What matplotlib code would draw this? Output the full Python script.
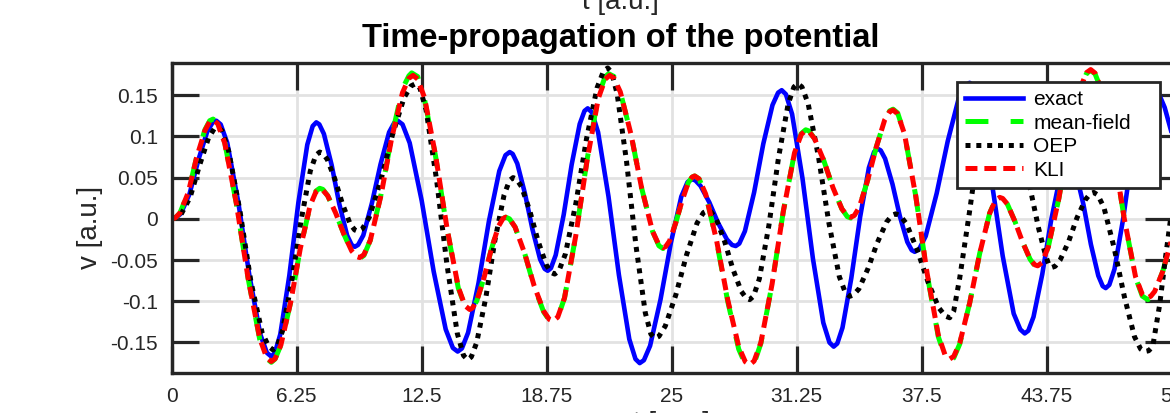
import matplotlib
matplotlib.use('Agg')
import matplotlib.pyplot as plt

# values (t in a.u., v in a.u.)
t_exact = [0,
           0.18, 0.45, 0.89, 1.34, 1.78, 2.05, 2.23,
           2.45, 2.78, 3.33, 3.88, 4.43, 4.76, 4.98,
           5.16, 5.43, 5.88, 6.33, 6.78, 7.05, 7.23,
           7.38, 7.61, 8.00, 8.38, 8.77, 9.00, 9.15,
           9.32, 9.58, 10.01, 10.44, 10.87, 11.13, 11.3,
           11.54, 11.9, 12.5, 13.1, 13.7, 14.06, 14.3,
           14.51, 14.82, 15.34, 15.86, 16.38, 16.69, 16.9,
           17.05, 17.28, 17.66, 18.04, 18.42, 18.65, 18.8,
           18.96, 19.2, 19.6, 20.0, 20.4, 20.64, 20.8,
           21.01, 21.32, 21.84, 22.36, 22.88, 23.19, 23.4,
           23.61, 23.92, 24.44, 24.96, 25.48, 25.79, 26.0,
           26.18, 26.44, 26.88, 27.32, 27.76, 28.02, 28.2,
           28.38, 28.66, 29.12, 29.58, 30.04, 30.32, 30.5,
           30.71, 31.02, 31.54, 32.06, 32.58, 32.89, 33.1,
           33.28, 33.54, 33.98, 34.42, 34.86, 35.12, 35.3,
           35.45, 35.67, 36.04, 36.41, 36.78, 37.0, 37.15,
           37.37, 37.70, 38.25, 38.80, 39.35, 39.68, 39.9,
           40.12, 40.45, 41.0, 41.55, 42.1, 42.43, 42.65,
           42.83, 43.09, 43.53, 43.97, 44.41, 44.67, 44.85,
           45.0, 45.22, 45.59, 45.96, 46.33, 46.55, 46.7,
           46.88, 47.14, 47.58, 48.02, 48.46, 48.72, 48.9,
           49.1, 49.3, 49.65, 50.0]
v_exact = [0,
           0.001, 0.006, 0.030, 0.072, 0.106, 0.117, 0.119,
           0.1145, 0.092, 0.020, -0.068, -0.140, -0.1625, -0.167,
           -0.1625, -0.140, -0.069, 0.019, 0.090, 0.1125, 0.117,
           0.1146, 0.103, 0.065, 0.018, -0.020, -0.0316, -0.034,
           -0.0316, -0.020, 0.019, 0.066, 0.105, 0.1166, 0.119,
           0.1146, 0.092, 0.022, -0.064, -0.134, -0.1566, -0.161,
           -0.1572, -0.138, -0.078, -0.003, 0.058, 0.0772, 0.081,
           0.0787, 0.067, 0.031, -0.013, -0.049, -0.0607, -0.063,
           -0.0599, -0.044, 0.005, 0.066, 0.115, 0.1309, 0.134,
           0.1291, 0.105, 0.027, -0.068, -0.146, -0.1701, -0.175,
           -0.1715, -0.154, -0.098, -0.029, 0.027, 0.0445, 0.048,
           0.0467, 0.040, 0.020, -0.005, -0.025, -0.0317, -0.033,
           -0.030, -0.015, 0.032, 0.091, 0.138, 0.153, 0.156,
           0.1511, 0.127, 0.049, -0.048, -0.126, -0.1501, -0.155,
           -0.1512, -0.132, -0.072, 0.002, 0.062, 0.0812, 0.085,
           0.083, 0.073, 0.042, 0.003, -0.028, -0.038, -0.040,
           -0.0368, -0.021, 0.031, 0.094, 0.146, 0.1618, 0.165,
           0.1602, 0.130, 0.045, -0.045, -0.115, -0.1342, -0.139,
           -0.1357, -0.119, -0.067, -0.002, 0.050, 0.0667, 0.070,
           0.0676, 0.055, 0.017, -0.031, -0.069, -0.0816, -0.084,
           -0.0801, -0.061, 0.001, 0.078, 0.140, 0.1591, 0.163,
           0.161, 0.155, 0.135, 0.104]

t_kli = [0,
         0.17, 0.41, 0.83, 1.24, 1.66, 1.90, 2.07,
         2.30, 2.65, 3.23, 3.82, 4.40, 4.75, 4.98,
         5.17, 5.46, 5.95, 6.43, 6.92, 7.21, 7.4,
         7.56, 7.8, 8.2, 8.6, 9.0, 9.24, 9.4,
         9.61, 9.93, 10.47, 11.00, 11.54, 11.86, 12.07,
         12.30, 12.64, 13.20, 13.77, 14.33, 14.67, 14.9,
         15.04, 15.26, 15.62, 15.98, 16.34, 16.56, 16.7,
         16.89, 17.17, 17.65, 18.12, 18.60, 18.88, 19.07,
         19.30, 19.64, 20.20, 20.77, 21.33, 21.67, 21.9,
         22.11, 22.43, 22.97, 23.50, 24.04, 24.36, 24.57,
         24.70, 24.89, 25.20, 25.52, 25.83, 26.02, 26.15,
         26.37, 26.70, 27.25, 27.80, 28.35, 28.68, 28.9,
         29.12, 29.46, 30.02, 30.58, 31.14, 31.48, 31.7,
         31.88, 32.15, 32.60, 33.06, 33.51, 33.78, 33.96,
         34.13, 34.38, 34.80, 35.23, 35.65, 35.90, 36.07,
         36.30, 36.64, 37.20, 37.77, 38.33, 38.67, 38.9,
         39.1, 39.4, 39.9, 40.4, 40.9, 41.2, 41.4,
         41.55, 41.78, 42.16, 42.54, 42.92, 43.15, 43.3,
         43.51, 43.83, 44.36, 44.89, 45.42, 45.74, 45.95,
         46.17, 46.51, 47.07, 47.63, 48.19, 48.53, 48.75,
         48.95, 49.15, 49.55, 50.0]
v_kli = [0,
         0.001, 0.007, 0.032, 0.074, 0.107, 0.118, 0.120,
         0.1154, 0.092, 0.019, -0.072, -0.145, -0.1684, -0.173,
         -0.1697, -0.153, -0.101, -0.036, 0.016, 0.0327, 0.036,
         0.0347, 0.028, 0.007, -0.018, -0.039, -0.0457, -0.047,
         -0.0435, -0.026, 0.029, 0.098, 0.153, 0.1705, 0.174,
         0.1695, 0.147, 0.076, -0.012, -0.083, -0.1055, -0.110,
         -0.1082, -0.099, -0.071, -0.037, -0.009, 0.0002, 0.002,
         0.000, -0.010, -0.042, -0.081, -0.112, -0.122, -0.124,
         -0.1193, -0.096, -0.021, 0.071, 0.146, 0.1693, 0.174,
         0.1707, 0.154, 0.102, 0.037, -0.015, -0.0317, -0.035,
         -0.0336, -0.027, -0.005, 0.022, 0.044, 0.0506, 0.052,
         0.0484, 0.030, -0.027, -0.098, -0.155, -0.1734, -0.177,
         -0.1725, -0.150, -0.079, 0.009, 0.080, 0.1025, 0.107,
         0.1054, 0.097, 0.071, 0.038, 0.012, 0.0036, 0.002,
         0.004, 0.014, 0.047, 0.087, 0.120, 0.130, 0.132,
         0.1273, 0.103, 0.028, -0.066, -0.141, -0.1653, -0.170,
         -0.1669, -0.151, -0.102, -0.042, 0.007, 0.0229, 0.026,
         0.0247, 0.018, -0.003, -0.028, -0.049, -0.0557, -0.057,
         -0.0533, -0.034, 0.025, 0.099, 0.158, 0.1773, 0.181,
         0.1767, 0.155, 0.085, 0.000, -0.070, -0.0917, -0.096,
         -0.094, -0.088, -0.064, -0.025]

# mean-field sits almost exactly under KLI
t_mf = [0,
        0.17, 0.41, 0.83, 1.24, 1.66, 1.90, 2.07,
        2.30, 2.65, 3.23, 3.82, 4.40, 4.75, 4.98,
        5.17, 5.46, 5.95, 6.43, 6.92, 7.21, 7.4,
        7.56, 7.8, 8.2, 8.6, 9.0, 9.24, 9.4,
        9.61, 9.93, 10.47, 11.00, 11.54, 11.86, 12.0,
        12.30, 12.64, 13.20, 13.77, 14.33, 14.67, 14.9,
        15.04, 15.26, 15.62, 15.98, 16.34, 16.56, 16.7,
        16.89, 17.17, 17.65, 18.12, 18.60, 18.88, 19.07,
        19.30, 19.64, 20.20, 20.77, 21.33, 21.67, 21.85,
        22.11, 22.43, 22.97, 23.50, 24.04, 24.36, 24.57,
        24.70, 24.89, 25.20, 25.52, 25.83, 26.02, 26.15,
        26.37, 26.70, 27.25, 27.80, 28.35, 28.68, 28.95,
        29.12, 29.46, 30.02, 30.58, 31.14, 31.48, 31.7,
        31.88, 32.15, 32.60, 33.06, 33.51, 33.78, 33.96,
        34.13, 34.38, 34.80, 35.23, 35.65, 35.90, 36.07,
        36.30, 36.64, 37.20, 37.77, 38.33, 38.67, 38.95,
        39.1, 39.4, 39.9, 40.4, 40.9, 41.2, 41.4,
        41.55, 41.78, 42.16, 42.54, 42.92, 43.15, 43.3,
        43.51, 43.83, 44.36, 44.89, 45.42, 45.74, 45.95,
        46.17, 46.51, 47.07, 47.63, 48.19, 48.53, 48.8,
        48.95, 49.15, 49.55, 50.0]
v_mf = [0,
        0.001, 0.007, 0.032, 0.074, 0.108, 0.119, 0.121,
        0.1164, 0.093, 0.019, -0.072, -0.146, -0.1694, -0.174,
        -0.170, -0.153, -0.101, -0.036, 0.016, 0.0337, 0.037,
        0.0357, 0.028, 0.007, -0.018, -0.040, -0.0467, -0.048,
        -0.0445, -0.026, 0.030, 0.100, 0.158, 0.1735, 0.177,
        0.1725, 0.145, 0.075, -0.013, -0.084, -0.1065, -0.111,
        -0.1092, -0.099, -0.071, -0.037, -0.009, 0.0002, 0.002,
        0.000, -0.010, -0.042, -0.082, -0.113, -0.123, -0.125,
        -0.1203, -0.096, -0.021, 0.072, 0.149, 0.1723, 0.176,
        0.1727, 0.154, 0.102, 0.037, -0.015, -0.0327, -0.036,
        -0.0346, -0.027, -0.005, 0.022, 0.044, 0.0506, 0.052,
        0.0484, 0.030, -0.028, -0.100, -0.158, -0.1764, -0.180,
        -0.1755, -0.151, -0.079, 0.009, 0.080, 0.1035, 0.108,
        0.1064, 0.097, 0.071, 0.038, 0.012, 0.0026, 0.001,
        0.003, 0.014, 0.047, 0.087, 0.120, 0.131, 0.133,
        0.1283, 0.103, 0.028, -0.067, -0.143, -0.1673, -0.172,
        -0.1689, -0.152, -0.102, -0.042, 0.007, 0.0239, 0.027,
        0.0257, 0.018, -0.003, -0.028, -0.049, -0.0567, -0.058,
        -0.0543, -0.034, 0.025, 0.099, 0.158, 0.1763, 0.180,
        0.1757, 0.155, 0.085, 0.000, -0.071, -0.0937, -0.098,
        -0.096, -0.089, -0.064, -0.025]

t_oep = [0,
         0.18, 0.46, 0.92, 1.38, 1.84, 2.12, 2.3,
         2.52, 2.85, 3.41, 3.96, 4.52, 4.85, 5.07,
         5.26, 5.54, 6.00, 6.47, 6.93, 7.21, 7.4,
         7.55, 7.78, 8.16, 8.54, 8.92, 9.15, 9.3,
         9.53, 9.88, 10.46, 11.04, 11.62, 11.97, 12.2,
         12.41, 12.72, 13.24, 13.76, 14.28, 14.59, 14.8,
         14.98, 15.25, 15.71, 16.16, 16.62, 16.89, 17.07,
         17.24, 17.49, 17.90, 18.32, 18.73, 18.98, 19.15,
         19.36, 19.68, 20.21, 20.74, 21.27, 21.59, 21.8,
         21.99, 22.27, 22.74, 23.21, 23.68, 23.96, 24.15,
         24.36, 24.68, 25.21, 25.74, 26.27, 26.59, 26.8,
         26.97, 27.22, 27.64, 28.06, 28.48, 28.73, 28.9,
         29.09, 29.38, 29.86, 30.34, 30.82, 31.11, 31.3,
         31.51, 31.82, 32.34, 32.86, 33.38, 33.69, 33.9,
         34.08, 34.36, 34.82, 35.28, 35.74, 36.02, 36.2,
         36.42, 36.74, 37.28, 37.82, 38.36, 38.68, 38.9,
         39.1, 39.4, 39.9, 40.3, 40.7, 41.0, 41.3,
         41.6, 41.8, 42.25, 42.6, 42.95, 43.35, 43.7, 43.85, 44.0,
         44.17, 44.42, 44.84, 45.26, 45.68, 45.93, 46.1,
         46.30, 46.61, 47.12, 47.63, 48.14, 48.45, 48.65,
         48.85, 49.05, 49.4, 49.7, 50.0]
v_oep = [0,
         0.001, 0.005, 0.026, 0.064, 0.098, 0.109, 0.111,
         0.1068, 0.082, 0.010, -0.076, -0.138, -0.1548, -0.159,
         -0.1552, -0.136, -0.076, -0.002, 0.058, 0.0772, 0.081,
         0.0795, 0.072, 0.048, 0.018, -0.006, -0.0135, -0.015,
         -0.0122, 0.002, 0.047, 0.102, 0.147, 0.1612, 0.164,
         0.1587, 0.132, 0.048, -0.055, -0.139, -0.1657, -0.171,
         -0.1675, -0.150, -0.095, -0.026, 0.029, 0.0465, 0.050,
         0.0482, 0.039, 0.010, -0.027, -0.056, -0.0652, -0.067,
         -0.0631, -0.043, 0.019, 0.097, 0.159, 0.1791, 0.183,
         0.1779, 0.152, 0.070, -0.032, -0.114, -0.1399, -0.145,
         -0.1426, -0.130, -0.092, -0.044, -0.005, 0.0076, 0.010,
         0.0083, 0.000, -0.027, -0.061, -0.088, -0.0963, -0.098,
         -0.0939, -0.073, -0.008, 0.074, 0.139, 0.1599, 0.164,
         0.160, 0.140, 0.075, -0.005, -0.070, -0.090, -0.094,
         -0.0924, -0.085, -0.060, -0.029, -0.004, 0.0044, 0.006,
         0.004, -0.006, -0.038, -0.077, -0.108, -0.118, -0.120,
         -0.112, -0.072, 0.010, 0.080, 0.130, 0.152, 0.160,
         0.156, 0.148, 0.112, 0.072, 0.034, -0.012, -0.045, -0.055, -0.059,
         -0.0576, -0.050, -0.028, 0.001, 0.023, 0.0306, 0.032,
         0.029, 0.014, -0.035, -0.094, -0.143, -0.158, -0.161,
         -0.160, -0.155, -0.104, -0.045, 0.010]

x_ticks = [0, 6.25, 12.5, 18.75, 25, 31.25, 37.5, 43.75, 50]
x_labels = ['0', '6.25', '12.5', '18.75', '25', '31.25', '37.5', '43.75', '50']
y_ticks = [-0.15, -0.1, -0.05, 0, 0.05, 0.1, 0.15]
y_labels = ['-0.15', '-0.1', '-0.05', '0', '0.05', '0.1', '0.15']

plt.rcParams['font.family'] = ['Liberation Sans', 'DejaVu Sans']
plt.rcParams['lines.scale_dashes'] = False
dark = '#262626'

fig = plt.figure(figsize=(11.7, 4.13), dpi=100)
# axes run slightly past the right border, as in the cropped original
ax = fig.add_axes([0.14675, 0.09685, 0.8547, 0.7506])

ax.plot(t_exact, v_exact, color='#0000ff', lw=3.3, label='exact',
        solid_joinstyle='round')
ax.plot(t_mf, v_mf, color='#00ff00', lw=3.6, dashes=[16.5, 16.0],
        dash_capstyle='butt', dash_joinstyle='round', label='mean-field')
ax.plot(t_oep, v_oep, color='black', lw=3.6, dashes=[3.6, 4.2],
        dash_capstyle='butt', dash_joinstyle='round', label='OEP')
ax.plot(t_kli, v_kli, color='#ff0000', lw=3.6, dashes=[8.6, 5.0],
        dash_capstyle='butt', dash_joinstyle='round', label='KLI')

ax.set_xlim(0, 50)
ax.set_ylim(-0.187, 0.189)
ax.set_xticks(x_ticks)
ax.set_xticklabels(x_labels)
ax.set_yticks(y_ticks)
ax.set_yticklabels(y_labels)
ax.grid(True, color='#e2e2e2', lw=2.0)
ax.set_axisbelow(True)
ax.tick_params(direction='in', length=19.5, width=2.3, top=True, right=True,
               color=dark, labelcolor=dark, labelsize=15, pad=10)
for s in ax.spines.values():
    s.set_linewidth(2.4)
    s.set_color(dark)

ax.set_xlabel('t [a.u.]', fontsize=20, color=dark)
ax.xaxis.set_label_coords(0.5, -0.1226)
ax.set_ylabel('v [a.u.]', fontsize=20, color=dark)
ax.yaxis.set_label_coords(-0.0687, 0.471)

# MATLAB-like legend box: wider than its contents, text left aligned
leg = ax.legend(loc='upper left', bbox_to_anchor=(0.785, 0.0, 0.2033, 0.9397),
                mode='expand', borderaxespad=0, fontsize=15, handlelength=2.78,
                handletextpad=0.5, labelspacing=0.22, borderpad=0.4,
                fancybox=False, framealpha=1, edgecolor=dark)
leg.get_frame().set_linewidth(2.0)

fig.text(621 / 1170, (413 - 47) / 413, 'Time-propagation of the potential',
         ha='center', va='baseline', fontsize=23.5, fontweight='bold',
         color='black')
# x label of the panel above, cut by the crop
fig.text(620 / 1170, (413 - 15) / 413, 't [a.u.]', ha='center',
         va='bottom', fontsize=20, color=dark)

fig.savefig('out.png', dpi=100)
